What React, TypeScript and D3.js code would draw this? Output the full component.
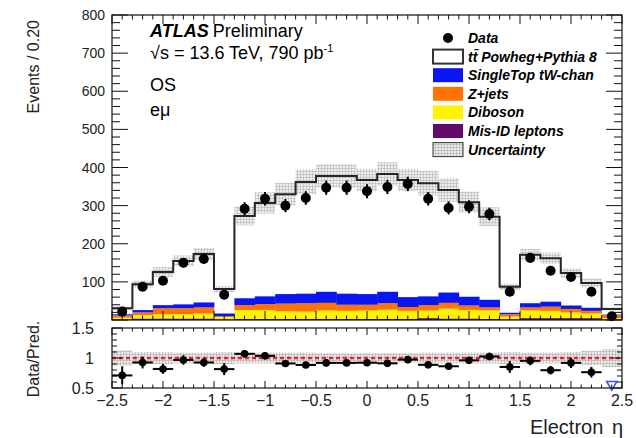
import { useEffect, useRef } from "react";
import * as d3 from "d3";

// electron eta bins, width 0.2
const binLow = [
  -2.5, -2.3, -2.1, -1.9, -1.7, -1.5, -1.3, -1.1, -0.9, -0.7, -0.5, -0.3, -0.1,
  0.1, 0.3, 0.5, 0.7, 0.9, 1.1, 1.3, 1.5, 1.7, 1.9, 2.1, 2.3,
];
const binWidth = 0.2;

const dataCounts = [
  22, 87, 103, 150, 160, 66, 292, 318, 300, 320, 347, 347, 338, 349, 357, 318,
  294, 297, 278, 74, 163, 129, 113, 74, 10,
];
const ttbar = [
  16, 68, 87, 114, 127, 64, 216, 245, 262, 293, 304, 309, 299, 309, 307, 297,
  269, 248, 218, 68, 127, 114, 85, 65, 15,
];
const singleTop = [
  3, 6, 8, 10, 13, 7, 18, 20, 25, 25, 29, 29, 28, 30, 26, 23, 27, 23, 20, 4, 11,
  13, 9, 8, 2,
];
const zJets = [
  6, 7, 16, 16, 16, 2, 13, 16, 20, 22, 20, 16, 15, 17, 10, 14, 15, 12, 8, 6, 8,
  11, 9, 7, 7,
];
const diboson = [
  4, 9, 11, 11, 13, 6, 23, 23, 20, 19, 22, 21, 22, 24, 21, 20, 26, 22, 22, 7,
  20, 19, 15, 12, 3,
];
const misId = [
  2, 4, 4, 4, 4, 2, 3, 3, 3, 3, 3, 3, 3, 3, 3, 5, 4, 4, 3, 2, 5, 5, 5, 5, 2,
];
const relUnc = [
  0.13, 0.1, 0.1, 0.09, 0.09, 0.1, 0.09, 0.09, 0.09, 0.09, 0.08, 0.08, 0.08,
  0.08, 0.08, 0.09, 0.09, 0.09, 0.09, 0.1, 0.09, 0.09, 0.1, 0.12, 0.15,
];

const mainTicks = [100, 200, 300, 400, 500, 600, 700, 800];
const ratioTicks = [0.5, 1, 1.5];
const xTicks = [-2.5, -2, -1.5, -1, -0.5, 0, 0.5, 1, 1.5, 2, 2.5];

// stacked from bottom up
const stackOrder = [
  { name: "misId", values: misId, color: "#620a6c" },
  { name: "diboson", values: diboson, color: "#fff300" },
  { name: "zjets", values: zJets, color: "#ff7400" },
  { name: "singletop", values: singleTop, color: "#0a16f2" },
];

const legendItems = [
  { label: "Data", kind: "data" },
  { label: "tt\u0304 Powheg+Pythia 8", kind: "box", color: "#ffffff" },
  { label: "SingleTop tW-chan", kind: "box", color: "#0a16f2" },
  { label: "Z+jets", kind: "box", color: "#ff7400" },
  { label: "Diboson", kind: "box", color: "#fff300" },
  { label: "Mis-ID leptons", kind: "box", color: "#620a6c" },
  { label: "Uncertainty", kind: "unc" },
];

const FONT = "'Liberation Sans', Arial, Helvetica, sans-serif";
const fmt = (v: number) => String(v).replace("-", "\u2212");

const App = () => {
  const svgRef = useRef<SVGSVGElement>(null);

  useEffect(() => {
    const svg = d3.select(svgRef.current);
    svg.selectAll("*").remove();

    const W = 636;
    const H = 438;
    const left = 112;
    const right = 622;
    const mainTop = 15;
    const mainBottom = 320;
    const ratioTop = 328;
    const ratioBottom = 388;

    svg.attr("width", W).attr("height", H).style("font-family", FONT);

    const defs = svg.append("defs");
    const pat = defs
      .append("pattern")
      .attr("id", "uncPattern")
      .attr("patternUnits", "userSpaceOnUse")
      .attr("width", 3)
      .attr("height", 3);
    pat.append("rect").attr("width", 3).attr("height", 3).attr("fill", "#ececec");
    pat
      .append("path")
      .attr("d", "M0 0.5H3M0.5 0V3")
      .attr("stroke", "#b4b4b4")
      .attr("stroke-width", 0.7);

    const x = d3.scaleLinear().domain([-2.5, 2.5]).range([left, right]);
    const y = d3.scaleLinear().domain([0, 800]).range([mainBottom, mainTop]);
    const yR = d3.scaleLinear().domain([0.5, 1.5]).range([ratioBottom, ratioTop]);

    const totals = binLow.map(
      (_, i) => ttbar[i] + singleTop[i] + zJets[i] + diboson[i] + misId[i]
    );

    const gMain = svg.append("g");

    // stacked backgrounds
    const cum = binLow.map(() => 0);
    stackOrder.forEach((s) => {
      gMain
        .selectAll(null)
        .data(binLow)
        .enter()
        .append("rect")
        .attr("x", (d) => x(d))
        .attr("width", (d) => x(d + binWidth) - x(d) + 0.4)
        .attr("y", (d, i) => y(cum[i] + s.values[i]))
        .attr("height", (d, i) => y(cum[i]) - y(cum[i] + s.values[i]))
        .attr("fill", s.color);
      binLow.forEach((_, i) => (cum[i] += s.values[i]));
    });

    // uncertainty band
    gMain
      .selectAll(null)
      .data(binLow)
      .enter()
      .append("rect")
      .attr("x", (d) => x(d))
      .attr("width", (d) => x(d + binWidth) - x(d))
      .attr("y", (d, i) => y(totals[i] * (1 + relUnc[i])))
      .attr("height", (d, i) => y(totals[i] * (1 - relUnc[i])) - y(totals[i] * (1 + relUnc[i])))
      .attr("fill", "url(#uncPattern)")
      .attr("opacity", 0.9);

    // ttbar outline (total prediction)
    const stepPts: [number, number][] = binLow.map((d, i) => [d, totals[i]]);
    stepPts.push([2.5, totals[totals.length - 1]]);
    gMain
      .append("path")
      .datum(stepPts)
      .attr("fill", "none")
      .attr("stroke", "#262626")
      .attr("stroke-width", 2)
      .attr(
        "d",
        d3
          .line<[number, number]>()
          .x((d) => x(d[0]))
          .y((d) => y(d[1]))
          .curve(d3.curveStepAfter)
      );

    // data points
    const centers = binLow.map((d) => d + binWidth / 2);
    gMain
      .selectAll(null)
      .data(centers)
      .enter()
      .append("line")
      .attr("x1", (d) => x(d))
      .attr("x2", (d) => x(d))
      .attr("y1", (d, i) => y(dataCounts[i] + Math.sqrt(dataCounts[i])))
      .attr("y2", (d, i) => y(Math.max(0, dataCounts[i] - Math.sqrt(dataCounts[i]))))
      .attr("stroke", "#000")
      .attr("stroke-width", 2);
    gMain
      .selectAll(null)
      .data(centers)
      .enter()
      .append("circle")
      .attr("cx", (d) => x(d))
      .attr("cy", (d, i) => y(dataCounts[i]))
      .attr("r", 5)
      .attr("fill", "#000");

    // ratio panel
    const gR = svg.append("g");
    gR.selectAll(null)
      .data(binLow)
      .enter()
      .append("rect")
      .attr("x", (d) => x(d))
      .attr("width", (d) => x(d + binWidth) - x(d))
      .attr("y", (d, i) => yR(1 + relUnc[i]))
      .attr("height", (d, i) => yR(1 - relUnc[i]) - yR(1 + relUnc[i]))
      .attr("fill", "url(#uncPattern)");
    gR.append("line")
      .attr("x1", left)
      .attr("x2", right)
      .attr("y1", yR(1))
      .attr("y2", yR(1))
      .attr("stroke", "#e8232a")
      .attr("stroke-width", 2.5)
      .attr("stroke-dasharray", "4 3");

    const ratios = binLow.map((_, i) => dataCounts[i] / totals[i]);
    const ratioErr = binLow.map((_, i) => Math.sqrt(dataCounts[i]) / totals[i]);
    binLow.forEach((d, i) => {
      const r = ratios[i];
      if (r < 0.5) {
        gR.append("path")
          .attr(
            "transform",
            `translate(${x(centers[i])},${yR(0.56)}) rotate(180)`
          )
          .attr("d", d3.symbol().type(d3.symbolTriangle).size(45)())
          .attr("fill", "none")
          .attr("stroke", "#3b4cf0")
          .attr("stroke-width", 1.5);
        return;
      }
      gR.append("line")
        .attr("x1", x(d))
        .attr("x2", x(d + binWidth))
        .attr("y1", yR(r))
        .attr("y2", yR(r))
        .attr("stroke", "#000")
        .attr("stroke-width", 2);
      gR.append("line")
        .attr("x1", x(centers[i]))
        .attr("x2", x(centers[i]))
        .attr("y1", yR(Math.min(1.5, r + ratioErr[i])))
        .attr("y2", yR(Math.max(0.5, r - ratioErr[i])))
        .attr("stroke", "#000")
        .attr("stroke-width", 2);
      gR.append("circle")
        .attr("cx", x(centers[i]))
        .attr("cy", yR(r))
        .attr("r", 3.8)
        .attr("fill", "#000");
    });

    // frames and ticks
    const axes = svg.append("g").attr("stroke", "#111").attr("fill", "none");
    const drawFrame = (top: number, bottom: number) =>
      axes
        .append("rect")
        .attr("x", left)
        .attr("y", top)
        .attr("width", right - left)
        .attr("height", bottom - top)
        .attr("stroke-width", 1.2);
    drawFrame(mainTop, mainBottom);
    drawFrame(ratioTop, ratioBottom);

    const xMinor = d3.range(0, 51).map((i) => -2.5 + i * 0.1);
    const drawXTicks = (top: number, bottom: number, major: number) => {
      xMinor.forEach((v, i) => {
        const len = i % 5 === 0 ? major : major / 2;
        axes.append("line").attr("x1", x(v)).attr("x2", x(v))
          .attr("y1", bottom).attr("y2", bottom - len);
        axes.append("line").attr("x1", x(v)).attr("x2", x(v))
          .attr("y1", top).attr("y2", top + len);
      });
    };
    drawXTicks(mainTop, mainBottom, 9);
    drawXTicks(ratioTop, ratioBottom, 7);

    const yMinor = d3.range(0, 41).map((i) => i * 20);
    yMinor.forEach((v, i) => {
      const len = i % 5 === 0 ? 16 : 8;
      axes.append("line").attr("x1", left).attr("x2", left + len)
        .attr("y1", y(v)).attr("y2", y(v));
      axes.append("line").attr("x1", right).attr("x2", right - len)
        .attr("y1", y(v)).attr("y2", y(v));
    });
    const rMinor = d3.range(0, 11).map((i) => 0.5 + i * 0.1);
    rMinor.forEach((v, i) => {
      const len = i % 5 === 0 ? 10 : 5;
      axes.append("line").attr("x1", left).attr("x2", left + len)
        .attr("y1", yR(v)).attr("y2", yR(v));
      axes.append("line").attr("x1", right).attr("x2", right - len)
        .attr("y1", yR(v)).attr("y2", yR(v));
    });

    // tick labels
    const labels = svg.append("g").attr("fill", "#222");
    labels
      .selectAll(null)
      .data(mainTicks)
      .enter()
      .append("text")
      .attr("x", 105)
      .attr("y", (d) => y(d) + 5)
      .attr("text-anchor", "end")
      .attr("font-size", 14)
      .text((d) => d);
    labels
      .selectAll(null)
      .data(ratioTicks)
      .enter()
      .append("text")
      .attr("x", 94)
      .attr("y", (d) => yR(d) + 6)
      .attr("text-anchor", "end")
      .attr("font-size", 16)
      .text((d) => d);
    labels
      .selectAll(null)
      .data(xTicks)
      .enter()
      .append("text")
      .attr("x", (d) => x(d))
      .attr("y", 406)
      .attr("text-anchor", "middle")
      .attr("font-size", 16)
      .text((d) => fmt(d));

    // axis titles
    labels
      .append("text")
      .attr("transform", "translate(39,20) rotate(-90)")
      .attr("text-anchor", "end")
      .attr("font-size", 16)
      .text("Events / 0.20");
    labels
      .append("text")
      .attr("transform", "translate(39,359) rotate(-90)")
      .attr("text-anchor", "middle")
      .attr("font-size", 16)
      .text("Data/Pred.");
    const xt = labels
      .append("text")
      .attr("x", 623)
      .attr("y", 434)
      .attr("text-anchor", "end")
      .attr("font-size", 20);
    xt.append("tspan").text("Electron ");
    xt.append("tspan").attr("dx", 3).text("\u03b7");

    // ATLAS label
    const t = svg.append("g").attr("fill", "#000").attr("font-size", 18);
    const atl = t.append("text").attr("x", 150).attr("y", 37);
    atl.append("tspan").attr("font-weight", "bold").attr("font-style", "italic").text("ATLAS");
    atl.append("tspan").attr("dx", 4).text("Preliminary");
    const en = t.append("text").attr("x", 150).attr("y", 59);
    en.append("tspan").text("\u221as = 13.6 TeV, 790 pb");
    en.append("tspan").attr("font-size", 11).attr("dy", -7).text("-1");
    t.append("text").attr("x", 150).attr("y", 91).text("OS");
    t.append("text").attr("x", 150).attr("y", 116).text("e\u03bc");

    // legend
    const lg = svg.append("g");
    legendItems.forEach((item, i) => {
      const cy = 38 + i * 18.6;
      if (item.kind === "data") {
        lg.append("circle").attr("cx", 448).attr("cy", cy).attr("r", 5).attr("fill", "#000");
      } else {
        lg.append("rect")
          .attr("x", 433)
          .attr("y", cy - 7)
          .attr("width", 30)
          .attr("height", 14)
          .attr("fill", item.kind === "unc" ? "url(#uncPattern)" : item.color)
          .attr("stroke", item.kind === "box" && item.color !== "#ffffff" ? "none" : "#333")
          .attr("stroke-width", item.kind === "unc" ? 1 : 2);
      }
      lg.append("text")
        .attr("x", 468)
        .attr("y", cy + 5)
        .attr("font-size", 14)
        .attr("font-weight", "bold")
        .attr("font-style", "italic")
        .attr("fill", "#000")
        .text(item.label);
    });
  }, []);

  return (
    <svg
      ref={svgRef}
      style={{ position: "absolute", left: 0, top: 0, background: "#fff" }}
    ></svg>
  );
};

export default App;
